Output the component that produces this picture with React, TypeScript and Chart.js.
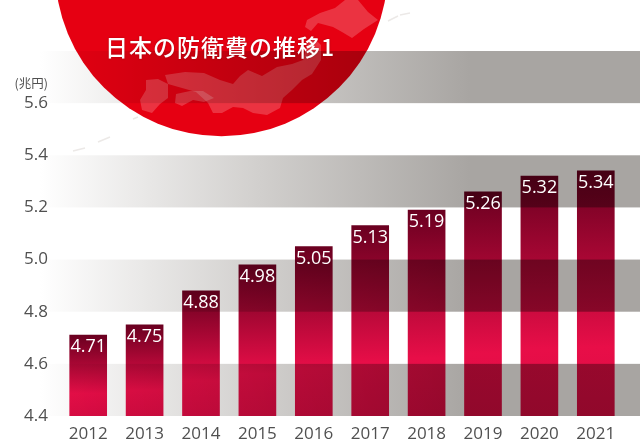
import React, { useEffect, useRef } from "react";
import { Chart, registerables } from "chart.js";

Chart.register(...registerables);

const years = ["2012", "2013", "2014", "2015", "2016", "2017", "2018", "2019", "2020", "2021"];
const budget = [4.71, 4.75, 4.88, 4.98, 5.05, 5.13, 5.19, 5.26, 5.32, 5.34];
const bandRanges = [[5.6, 5.8], [5.2, 5.4], [4.8, 5.0], [4.4, 4.6]];
const titleText = "日本の防衛費の推移1";
const unitText = "(兆円)";
const FONT = '"Open Sans", "Noto Sans", sans-serif';

const hokkaido = [[307, 20], [320, 13], [335, 8], [345, 0], [358, 0], [368, 12], [378, 20], [364, 29], [352, 38], [342, 32], [333, 27], [318, 23], [311, 31], [305, 27]];
const honshu = [[165, 75], [185, 72], [204, 73], [220, 80], [233, 84], [240, 76], [248, 70], [262, 76], [277, 67], [292, 64], [303, 60], [307, 45], [314, 38], [321, 45], [321, 60], [312, 74], [302, 80], [292, 90], [283, 98], [280, 108], [267, 115], [253, 113], [243, 108], [233, 107], [222, 113], [213, 113], [208, 103], [196, 92], [182, 88], [168, 84]];
const shikoku = [[176, 94], [190, 91], [203, 91], [214, 98], [204, 102], [193, 100], [182, 106], [175, 103]];
const kyushu = [[146, 80], [158, 79], [168, 84], [168, 98], [160, 104], [152, 113], [142, 110], [140, 100], [146, 90]];
const specks = [[[388, 21], [398, 16]], [[400, 15], [410, 13]], [[73, 151], [85, 148]], [[98, 142], [110, 137]], [[133, 119], [138, 117]]];

const decorPlugin = {
  id: "decor",
  beforeDraw(chart: any) {
    const c = chart.ctx;
    c.save();
    c.fillStyle = "#ffffff";
    c.fillRect(0, 0, chart.width, chart.height);
    c.strokeStyle = "#ece9e7";
    c.lineWidth = 1.5;
    specks.forEach(([a, b]) => {
      c.beginPath();
      c.moveTo(a[0], a[1]);
      c.lineTo(b[0], b[1]);
      c.stroke();
    });
    c.beginPath();
    c.arc(221.5, -30, 166.3, 0, Math.PI * 2);
    c.clip();
    c.fillStyle = "#e60012";
    c.fillRect(0, 0, chart.width, chart.height);
    c.fillStyle = "rgba(255,255,255,0.2)";
    [hokkaido, honshu, shikoku, kyushu].forEach((poly) => {
      c.beginPath();
      poly.forEach((p, i) => (i ? c.lineTo(p[0], p[1]) : c.moveTo(p[0], p[1])));
      c.closePath();
      c.fill();
    });
    c.restore();
  },
  afterDatasetsDraw(chart: any) {
    const c = chart.ctx;
    const y = chart.scales.y;
    const g = c.createLinearGradient(40, 0, 470, 0);
    g.addColorStop(0, "#ffffff");
    g.addColorStop(0.5, "#d2d0ce");
    g.addColorStop(1, "#a8a5a2");
    c.save();
    c.globalCompositeOperation = "multiply";
    c.fillStyle = g;
    bandRanges.forEach(([lo, hi]) => {
      const top = y.getPixelForValue(hi);
      c.fillRect(0, top, chart.width, y.getPixelForValue(lo) - top);
    });
    c.restore();
  },
  afterDraw(chart: any) {
    const c = chart.ctx;
    const x = chart.scales.x;
    const y = chart.scales.y;
    c.save();
    c.textAlign = "center";
    c.textBaseline = "middle";
    c.fillStyle = "#ffffff";
    c.font = `18px ${FONT}`;
    budget.forEach((v, i) => {
      c.fillText(v.toFixed(2), x.getPixelForValue(i), y.getPixelForValue(v) + 12);
    });
    c.fillStyle = "#505050";
    c.textAlign = "right";
    c.font = '12.5px "Noto Sans CJK JP", sans-serif';
    c.fillText(unitText, 48, 83);
    c.fillStyle = "#ffffff";
    c.textAlign = "left";
    c.font = '500 23px "Noto Sans CJK JP", sans-serif';
    (c as any).letterSpacing = "1px";
    c.shadowColor = "rgba(80,0,0,0.4)";
    c.shadowBlur = 2;
    c.fillText(titleText, 105, 47);
    c.restore();
  },
};

export default function App() {
  const ref = useRef<HTMLCanvasElement>(null);
  useEffect(() => {
    document.body.style.margin = "0";
    const chart = new Chart(ref.current as HTMLCanvasElement, {
      type: "bar",
      data: {
        labels: years,
        datasets: [
          {
            data: budget,
            barThickness: 37,
            backgroundColor: (ctx: any) => {
              const { chart: ch, dataIndex } = ctx;
              const y = ch.scales.y;
              if (!y || dataIndex === undefined) return "#b00030";
              const y0 = y.getPixelForValue(budget[dataIndex]);
              const y1 = y.getPixelForValue(4.4);
              if (!Number.isFinite(y0) || !Number.isFinite(y1)) return "#b00030";
              const g = ch.ctx.createLinearGradient(0, y0, 0, y1);
              g.addColorStop(0, "#6a0020");
              g.addColorStop(0.72, "#e80e48");
              g.addColorStop(1, "#dc0c44");
              return g;
            },
          },
        ],
      },
      options: {
        responsive: false,
        animation: false,
        devicePixelRatio: 1,
        layout: { padding: { top: 51, right: 16, left: 0, bottom: 0 } },
        plugins: { legend: { display: false }, tooltip: { enabled: false } },
        scales: {
          x: {
            grid: { display: false },
            border: { display: false },
            afterFit: (s: any) => { s.height = 30; },
            ticks: { color: "#505050", padding: 0, maxRotation: 0, autoSkip: false, font: { family: FONT, size: 17 } },
          },
          y: {
            min: 4.4,
            max: 5.8,
            grid: { display: false },
            border: { display: false },
            afterFit: (s: any) => { s.width = 60; },
            afterBuildTicks: (s: any) => {
              s.ticks = [4.4, 4.6, 4.8, 5.0, 5.2, 5.4, 5.6].map((value) => ({ value }));
            },
            ticks: {
              color: "#505050",
              padding: 4,
              font: { family: FONT, size: 17 },
              callback: (v: any) => Number(v).toFixed(1),
            },
          },
        },
      },
      plugins: [decorPlugin],
    });
    return () => chart.destroy();
  }, []);
  return <canvas ref={ref} width={640} height={446} style={{ display: "block" }} />;
}
